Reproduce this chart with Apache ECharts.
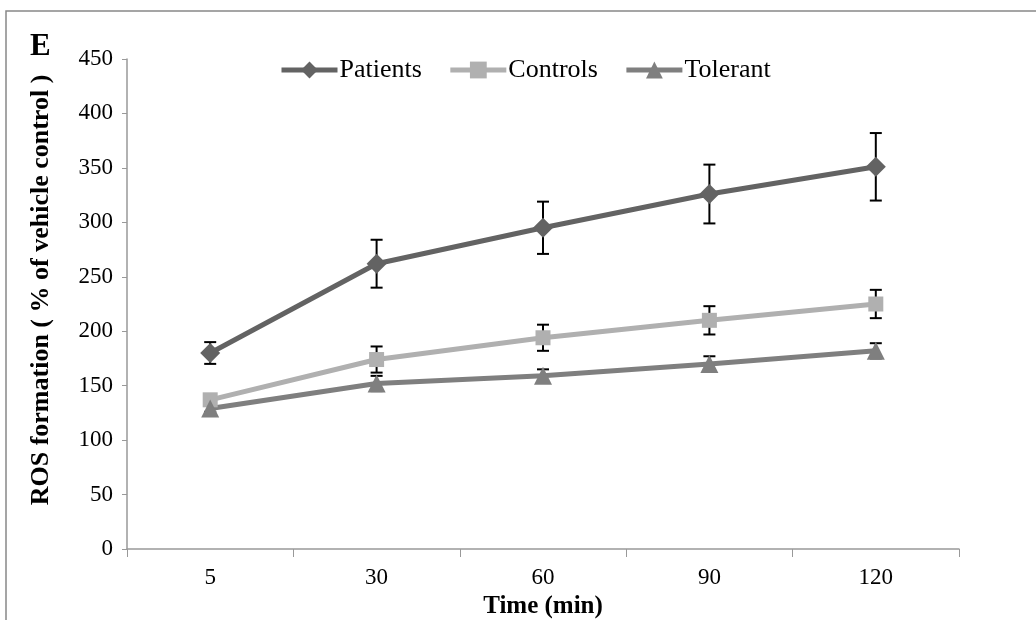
<!DOCTYPE html>
<html>
<head>
<meta charset="utf-8">
<script src="https://cdn.jsdelivr.net/npm/echarts@6/dist/echarts.min.js"></script>
<style>
  html, body { margin: 0; padding: 0; background: #fff; }
  #main { width: 1036px; height: 620px; }
</style>
</head>
<body>
<div id="main"></div>
<script>
// data
var times = ['5', '30', '60', '90', '120'];
var patients = [180, 262, 295, 326, 351];
var patientsErr = [10, 22, 24, 27, 31];
var controls = [137, 174, 194, 210, 225];
var controlsErr = [3, 12, 12, 13, 13];
var tolerant = [129, 152, 159, 170, 182];
var tolerantErr = [3, 7, 6, 7, 7];

var FONT = '"Liberation Serif", "Times New Roman", serif';

function errBars(name, vals, errs) {
    var d = vals.map(function (v, i) { return [i, v - errs[i], v + errs[i]]; });
    return {
        name: name + ' err',
        type: 'custom',
        z: 1,
        silent: true,
        data: d,
        renderItem: function (params, api) {
            var lo = api.coord([api.value(0), api.value(1)]);
            var hi = api.coord([api.value(0), api.value(2)]);
            var w = 6;
            var st = { stroke: '#000', lineWidth: 2 };
            return {
                type: 'group',
                children: [
                    { type: 'line', shape: { x1: lo[0], y1: lo[1], x2: hi[0], y2: hi[1] }, style: st },
                    { type: 'line', shape: { x1: lo[0] - w, y1: lo[1], x2: lo[0] + w, y2: lo[1] }, style: st },
                    { type: 'line', shape: { x1: hi[0] - w, y1: hi[1], x2: hi[0] + w, y2: hi[1] }, style: st }
                ]
            };
        }
    };
}

function lineSeries(name, vals, color, symbol, size) {
    return {
        name: name,
        type: 'line',
        z: 3,
        data: vals,
        symbol: symbol,
        symbolSize: size,
        lineStyle: { color: color, width: 5 },
        itemStyle: { color: color },
        animation: false
    };
}

var myChart = echarts.init(document.getElementById('main'));
myChart.setOption({
    animation: false,
    graphic: [
        { type: 'rect', shape: { x: 6, y: 11, width: 1100, height: 700 },
          style: { fill: 'none', stroke: '#888', lineWidth: 1.5 }, z: -1 },
        { type: 'text', left: 30, top: 31,
          style: { text: 'E', font: 'bold 31px ' + FONT, fill: '#000' } }
    ],
    legend: {
        top: 52,
        left: 274,
        itemWidth: 56,
        itemHeight: 21,
        itemGap: 26,
        lineStyle: { width: 5 },
        textStyle: { fontFamily: FONT, fontSize: 26, color: '#000', padding: [0, 0, 0, -3] },
        data: ['Patients', 'Controls', 'Tolerant']
    },
    grid: { left: 127, right: 77, top: 59, bottom: 71, outerBoundsMode: 'none' },
    xAxis: {
        type: 'category',
        data: times,
        boundaryGap: true,
        name: 'Time (min)',
        nameLocation: 'middle',
        nameGap: 43,
        nameTextStyle: { fontFamily: FONT, fontSize: 25, fontWeight: 'bold', color: '#000' },
        axisLine: { lineStyle: { color: '#999', width: 1.5 } },
        axisTick: { show: true, length: 8, lineStyle: { color: '#999' } },
        axisLabel: { fontFamily: FONT, fontSize: 23, color: '#000', margin: 17 },
        splitLine: { show: false }
    },
    yAxis: {
        type: 'value',
        min: 0,
        max: 450,
        interval: 50,
        name: 'ROS formation ( % of vehicle control )',
        nameLocation: 'middle',
        nameGap: 73,
        nameTextStyle: { fontFamily: FONT, fontSize: 26, fontWeight: 'bold', color: '#000', padding: [0, 0, 0, 28] },
        axisLine: { show: true, lineStyle: { color: '#999', width: 1.5 } },
        axisTick: { show: true, length: 5, lineStyle: { color: '#999' } },
        axisLabel: { fontFamily: FONT, fontSize: 23, color: '#000', margin: 14 },
        splitLine: { show: false }
    },
    series: [
        errBars('Patients', patients, patientsErr),
        errBars('Controls', controls, controlsErr),
        errBars('Tolerant', tolerant, tolerantErr),
        lineSeries('Patients', patients, '#636363', 'diamond', 20),
        lineSeries('Controls', controls, '#b0b0b0', 'rect', 15),
        lineSeries('Tolerant', tolerant, '#7f7f7f', 'triangle', 18)
    ]
});
</script>
</body>
</html>
